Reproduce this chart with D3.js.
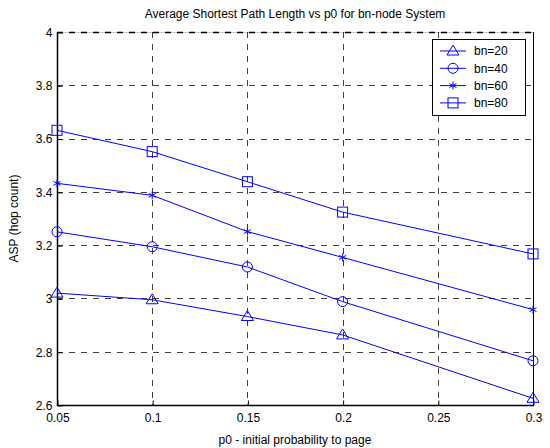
<!DOCTYPE html>
<html><head><meta charset="utf-8">
<script src="https://cdn.jsdelivr.net/npm/d3@7"></script>
<style>body{margin:0;background:#fff}svg{display:block}text{font-family:"Liberation Sans",Arial,sans-serif;}</style>
</head><body><svg id="c" width="550" height="448"></svg>
<script>
const p0 = [0.05, 0.1, 0.15, 0.2, 0.3];
const bn20 = [3.02, 2.995, 2.932, 2.863, 2.625];
const bn40 = [3.25, 3.194, 3.118, 2.988, 2.766];
const bn60 = [3.432, 3.387, 3.251, 3.154, 2.958];
const bn80 = [3.631, 3.551, 3.438, 3.324, 3.167];
const seriesNames = ["bn=20", "bn=40", "bn=60", "bn=80"];
const markers = ["triangle", "circle", "star", "square"];
const xTicks = [0.05, 0.1, 0.15, 0.2, 0.25, 0.3];
const yTicks = [2.6, 2.8, 3, 3.2, 3.4, 3.6, 3.8, 4];
const title = "Average Shortest Path Length vs p0 for bn-node System";
const xLabel = "p0 - initial probability to page";
const yLabel = "ASP (hop count)";

const series = [bn20, bn40, bn60, bn80];
const svg = d3.select("#c");
const L = 57, R = 533, T = 32, B = 405;
const x = d3.scaleLinear().domain([0.05, 0.3]).range([L, R]);
const y = d3.scaleLinear().domain([2.6, 4]).range([B, T]);
const blue = "#0000ff";

// grid
const g = svg.append("g");
g.selectAll(".gx").data(xTicks).join("line")
  .attr("x1", d => Math.round(x(d)) + 0.5).attr("x2", d => Math.round(x(d)) + 0.5)
  .attr("y1", T).attr("y2", B).attr("stroke", "#000").attr("stroke-width", 1)
  .attr("stroke-dasharray", "6,6").attr("opacity", 0.75);
g.selectAll(".gy").data(yTicks).join("line")
  .attr("y1", d => Math.round(y(d)) + 0.5).attr("y2", d => Math.round(y(d)) + 0.5)
  .attr("x1", L).attr("x2", R).attr("stroke", "#000").attr("stroke-width", d => d === 4 ? 1.5 : 1)
  .attr("stroke-dasharray", "6,6").attr("opacity", d => d === 4 ? 1 : 0.75);

// box (right solid, top thin)
svg.append("line").attr("x1", R + 0.5).attr("x2", R + 0.5).attr("y1", T).attr("y2", B).attr("stroke", "#000").attr("stroke-width", 1);
svg.append("line").attr("x1", L).attr("x2", R).attr("y1", T + 0.5).attr("y2", T + 0.5).attr("stroke", "#000").attr("stroke-width", 0.5).attr("opacity", 0.4);
svg.append("line").attr("x1", L + 0.5).attr("x2", L + 0.5).attr("y1", T).attr("y2", B + 1).attr("stroke", "#000").attr("stroke-width", 1.5);
svg.append("line").attr("x1", L).attr("x2", R + 1).attr("y1", B + 0.5).attr("y2", B + 0.5).attr("stroke", "#000").attr("stroke-width", 1.5);

// axes
const xa = svg.append("g").attr("transform", `translate(0.5,${B + 0.5})`)
  .call(d3.axisBottom(x).tickValues(xTicks).tickFormat(d3.format("~g")).tickSize(-5).tickPadding(8));
const ya = svg.append("g").attr("transform", `translate(${L + 0.5},0.5)`)
  .call(d3.axisLeft(y).tickValues(yTicks).tickFormat(d3.format("~g")).tickSize(-5).tickPadding(5));
[xa, ya].forEach(a => {
  a.select(".domain").remove();
  a.selectAll("text").attr("font-size", 12).attr("fill", "#000").attr("font-family", "Liberation Sans, Arial, sans-serif");
  a.selectAll("line").attr("stroke", "#000");
});

// lines
const line = d3.line().x((d, i) => x(p0[i])).y(d => y(d));
series.forEach((s, k) => {
  svg.append("path").datum(s).attr("d", line).attr("fill", "none").attr("stroke", blue).attr("stroke-width", 1);
});

function drawMarker(sel, type, cx, cy) {
  if (type === "triangle") {
    sel.append("path").attr("d", `M${cx},${cy - 6}L${cx + 6},${cy + 4}L${cx - 6},${cy + 4}Z`)
      .attr("fill", "none").attr("stroke", blue).attr("stroke-width", 1);
  } else if (type === "circle") {
    sel.append("circle").attr("cx", cx).attr("cy", cy).attr("r", 5)
      .attr("fill", "none").attr("stroke", blue).attr("stroke-width", 1);
  } else if (type === "square") {
    sel.append("rect").attr("x", cx - 5).attr("y", cy - 5).attr("width", 10).attr("height", 10)
      .attr("fill", "none").attr("stroke", blue).attr("stroke-width", 1);
  } else if (type === "star") {
    const r = 4;
    sel.append("path").attr("d",
      `M${cx},${cy - r}L${cx},${cy + r}` +
      `M${cx - r * 0.87},${cy - r * 0.5}L${cx + r * 0.87},${cy + r * 0.5}` +
      `M${cx - r * 0.87},${cy + r * 0.5}L${cx + r * 0.87},${cy - r * 0.5}`)
      .attr("fill", "none").attr("stroke", blue).attr("stroke-width", 1);
  }
}
series.forEach((s, k) => {
  const mg = svg.append("g");
  s.forEach((v, i) => drawMarker(mg, markers[k], x(p0[i]), y(v)));
});

// legend
const lg = svg.append("g");
lg.append("rect").attr("x", 432.5).attr("y", 39.5).attr("width", 93).attr("height", 76)
  .attr("fill", "#fff").attr("stroke", "#000").attr("stroke-width", 1);
seriesNames.forEach((n, k) => {
  const yy = 51 + k * 17.3;
  lg.append("line").attr("x1", 440).attr("x2", 466).attr("y1", yy).attr("y2", yy).attr("stroke", blue).attr("stroke-width", 1);
  drawMarker(lg, markers[k], 453, yy);
  lg.append("text").attr("x", 474).attr("y", yy).attr("dy", "0.35em").attr("font-size", 12).text(n);
});

// labels
svg.append("text").attr("x", (L + R) / 2).attr("y", 18).attr("text-anchor", "middle").attr("font-size", 12).text(title);
svg.append("text").attr("x", (L + R) / 2).attr("y", 444).attr("text-anchor", "middle").attr("font-size", 12).text(xLabel);
svg.append("text").attr("transform", `translate(18,${(T + B) / 2}) rotate(-90)`).attr("text-anchor", "middle").attr("font-size", 12).text(yLabel);
</script></body></html>
